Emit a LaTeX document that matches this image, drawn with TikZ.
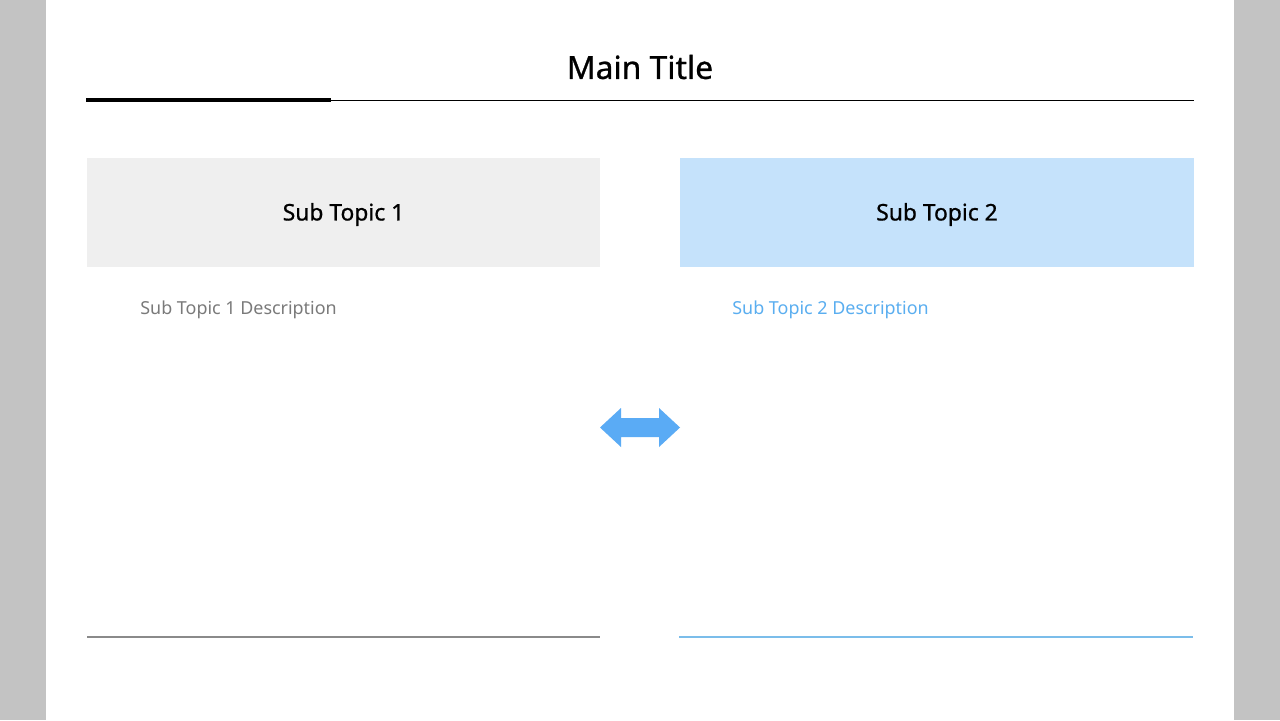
\documentclass[tikz,border=0pt]{standalone}
\usepackage{fontspec}
\setmainfont{Noto Sans}
\newfontfamily\medfont[FakeBold=0.8]{Noto Sans}
\usepackage{tikz}

\definecolor{pagegray}{HTML}{C3C3C3}
\definecolor{boxgray}{HTML}{EFEFEF}
\definecolor{boxblue}{HTML}{C5E2FB}
\definecolor{textgray}{HTML}{7A7A7A}
\definecolor{textblue}{HTML}{5AAEF0}
\definecolor{arrowblue}{HTML}{5AABF5}
\definecolor{linegray}{HTML}{8A8A8A}
\definecolor{lineblue}{HTML}{7BBDEA}

\tikzset{
  topicbox/.style={minimum width=513*0.02cm, minimum height=109*0.02cm, inner sep=0pt,
    font=\medfont\fontsize{13}{15}\selectfont},
  desc/.style={anchor=west, inner sep=0pt, font=\fontsize{10.2}{12}\selectfont}
}

\begin{document}
\begin{tikzpicture}[x=0.02cm,y=-0.02cm]
      \fill[pagegray] (0,0) rectangle (1280,720);
      \fill[white] (46,0) rectangle (1234,720);
      \useasboundingbox (0,0) rectangle (1280,720);
      \coordinate (L) at (86,100);
      \coordinate (M) at (331,100);
      \coordinate (R) at (1194,100);
      \node[font=\medfont\fontsize{18.1}{21}\selectfont] (title) at (640,67) {Main Title};
      \draw[line width=0.5pt] (L) -- (R);
      \draw[line width=2pt] (L) -- (M);
      % sub topics
      \fill[boxgray] (87,158) rectangle (600,267);
      \fill[boxblue] (680,158) rectangle (1194,267);
      \node[topicbox] (topic1) at (343.5,214.5) {Sub Topic 1};
      \node[topicbox] (topic2) at (937,214.5) {Sub Topic 2};
      \node[desc, text=textgray] (desc1) at (140,309.5) {Sub Topic 1 Description};
      \node[desc, text=textblue] (desc2) at (732,309.5) {Sub Topic 2 Description};
      % bottom lines
      \coordinate (B1) at (87,637);
      \coordinate (B2) at (600,637);
      \coordinate (B3) at (679,637);
      \coordinate (B4) at (1193,637);
      \draw[linegray, line width=0.6pt] (B1) -- (B2);
      \draw[lineblue, line width=0.6pt] (B3) -- (B4);
      % double arrow
      \fill[arrowblue] (600,427.5) -- (621,408) -- (621,418) -- (659,418) -- (659,408)
        -- (680,427.5) -- (659,447) -- (659,437) -- (621,437) -- (621,447) -- cycle;
    \end{tikzpicture}
\end{document}
